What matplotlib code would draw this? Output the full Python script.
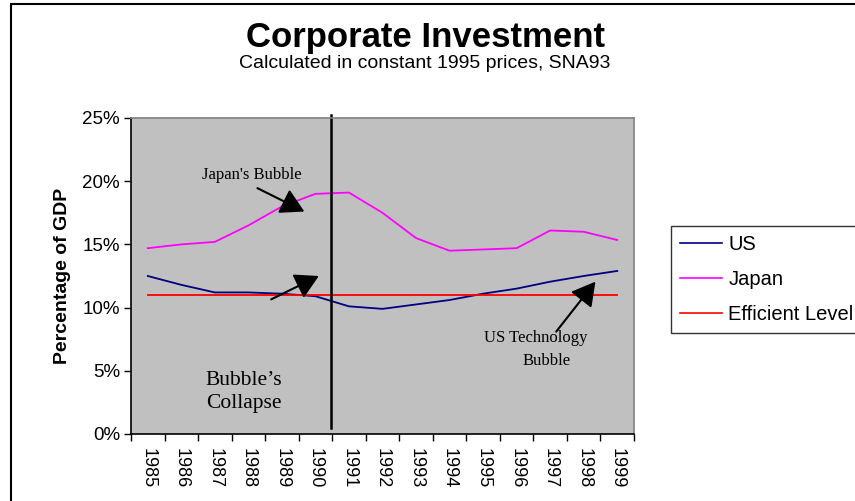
import matplotlib
matplotlib.use("Agg")
import matplotlib.pyplot as plt
from matplotlib.patches import Rectangle

years = [1985, 1986, 1987, 1988, 1989, 1990, 1991, 1992,
         1993, 1994, 1995, 1996, 1997, 1998, 1999]
us = [12.5, 11.8, 11.2, 11.2, 11.1, 10.9, 10.1, 9.9,
      10.25, 10.6, 11.1, 11.5, 12.05, 12.5, 12.9]
japan = [14.7, 15.0, 15.2, 16.5, 18.0, 19.0, 19.1, 17.5,
         15.5, 14.5, 14.6, 14.7, 16.1, 16.0, 15.35]
efficient = [11.0] * len(years)
y_ticks = [0, 5, 10, 15, 20, 25]
y_labels = ["0%", "5%", "10%", "15%", "20%", "25%"]

sans = "Liberation Sans"
serif = "Liberation Serif"
plt.rcParams["font.family"] = sans

fig = plt.figure(figsize=(8.55, 5.01), dpi=100)
fig.patch.set_facecolor("white")
# chart frame (runs off the right and bottom edges like the original)
fig.patches.append(Rectangle((11 / 855, -0.05), 1.2, 1 - 3.5 / 501 + 0.05,
                             transform=fig.transFigure, fill=False,
                             edgecolor="black", linewidth=1.5))

ax = fig.add_axes([131 / 855, 1 - 434 / 501, 503 / 855, 316 / 501])
ax.set_facecolor("#C0C0C0")

x = list(range(len(years)))
ax.plot(x, us, color="#000080", lw=1.3, label="US")
ax.plot(x, japan, color="#FF00FF", lw=1.3, label="Japan")
ax.plot(x, efficient, color="#FF0000", lw=1.3, label="Efficient Level")

ax.set_xlim(-0.5, len(years) - 0.5)
ax.set_ylim(0, 25)

ax.set_xticks([i - 0.5 for i in range(len(years) + 1)])
ax.set_xticklabels([])
ax.set_xticks(x, minor=True)
ax.set_xticklabels([str(y) for y in years], minor=True, rotation=270,
                   fontsize=13)
ax.tick_params(axis="x", which="minor", length=0, pad=10)
ax.tick_params(axis="x", which="major", length=5, width=1, direction="out")
ax.set_yticks(y_ticks)
ax.set_yticklabels(y_labels, fontsize=13.5)
ax.tick_params(axis="y", length=5, width=1, direction="out", pad=3)

for s in ["top", "right"]:
    ax.spines[s].set_color("#808080")
    ax.spines[s].set_linewidth(1.2)
for s in ["left", "bottom"]:
    ax.spines[s].set_color("black")
    ax.spines[s].set_linewidth(1.2)

ax.set_ylabel("Percentage of GDP", fontsize=14, fontweight="bold",
              labelpad=8)

# bubble collapse marker
ax.plot([5.45, 5.45], [0.5, 25.2], color="black", lw=1.8, clip_on=False)

arrow = dict(arrowstyle="-|>,head_length=0.8,head_width=0.45",
             color="black", lw=1.5, mutation_scale=18, shrinkA=0, shrinkB=0)
ax.annotate("", xy=(4.67, 17.6), xytext=(3.27, 19.45), arrowprops=arrow)
ax.annotate("", xy=(5.1, 12.5), xytext=(3.68, 10.65), arrowprops=arrow)
ax.annotate("", xy=(13.35, 12.05), xytext=(12.18, 8.1), arrowprops=arrow)

ax.text(3.1, 20.5, "Japan's Bubble", family=serif, fontsize=12,
        ha="center", va="center")
ax.text(1.73, 3.3, "Bubble\u2019s\nCollapse", family=serif, fontsize=15.5,
        ha="left", va="center", linespacing=1.3)
ax.text(11.58, 7.6, "US Technology", family=serif, fontsize=12,
        ha="center", va="center")
ax.text(11.88, 5.8, "Bubble", family=serif, fontsize=12,
        ha="center", va="center")

fig.text(425 / 855, 1 - 37 / 501, "Corporate Investment", fontsize=25,
         fontweight="bold", ha="center", va="center")
fig.text(425 / 855, 1 - 64 / 501, "Calculated in constant 1995 prices, SNA93",
         fontsize=14, ha="center", va="center")

leg = fig.legend(loc="upper left",
                 bbox_to_anchor=(671 / 855, 1 - 326.7 / 501, 0.3, 101 / 501),
                 mode="expand", fontsize=14.5, frameon=True, fancybox=False,
                 handlelength=2.1, handletextpad=0.3, borderpad=0.45,
                 labelspacing=0.8, borderaxespad=0)
leg.get_frame().set_edgecolor("black")
leg.get_frame().set_linewidth(1.0)
for h in leg.get_lines():
    h.set_linewidth(1.2)

fig.savefig("out.png", dpi=100)
